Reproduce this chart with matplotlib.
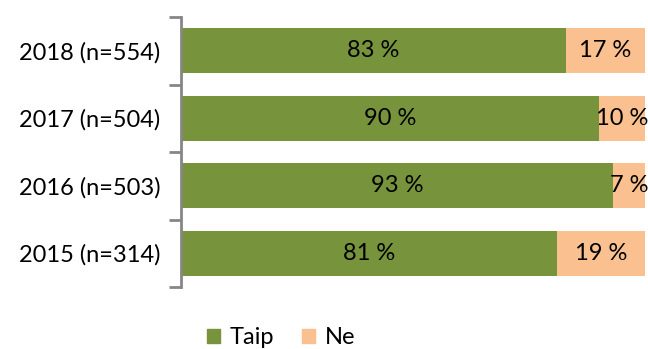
import matplotlib.pyplot as plt
from matplotlib.patches import Patch

plt.rcParams['font.family'] = ['Lato', 'DejaVu Sans']

years = ['2018 (n=554)', '2017 (n=504)', '2016 (n=503)', '2015 (n=314)']
taip = [83, 90, 93, 81]
ne = [17, 10, 7, 19]

green = '#77933C'
peach = '#FAC090'
fs = 17

fig = plt.figure(figsize=(6.48, 3.49), dpi=100)
ax = fig.add_axes([181 / 648, 1 - 287 / 349, 464 / 648, 270 / 349])

pos = list(range(len(years)))[::-1]
ax.barh(pos, taip, height=0.67, color=green)
ax.barh(pos, ne, left=taip, height=0.67, color=peach)

for y, a, b in zip(pos, taip, ne):
    ax.text(a / 2, y, f'{a} %', ha='center', va='center', fontsize=fs, color='black')
    ax.text(a + b / 2, y, f'{b} %', ha='center', va='center', fontsize=fs, color='black')

ax.set_xlim(0, 100)
ax.set_ylim(-0.5, 3.5)
ax.set_yticks([p - 0.5 for p in range(5)])
ax.set_yticklabels([])
ax.set_yticks(pos, minor=True)
ax.set_yticklabels(years, minor=True, fontsize=fs)
ax.tick_params(axis='y', which='minor', length=0, pad=15)
ax.tick_params(axis='y', which='major', length=9, width=2, color='#868686')
ax.set_xticks([])
for s in ['top', 'right', 'bottom']:
    ax.spines[s].set_visible(False)
ax.spines['left'].set_color('#868686')
ax.spines['left'].set_linewidth(2)

handles = [Patch(color=green, label='Taip'), Patch(color=peach, label='Ne')]
fig.legend(handles=handles, loc='center', bbox_to_anchor=(281 / 648, 1 - 338 / 349),
           ncol=2, frameon=False, fontsize=fs, handlelength=0.55, handleheight=0.55,
           columnspacing=1.2, handletextpad=0.4)

fig.savefig('out.png', dpi=100)
